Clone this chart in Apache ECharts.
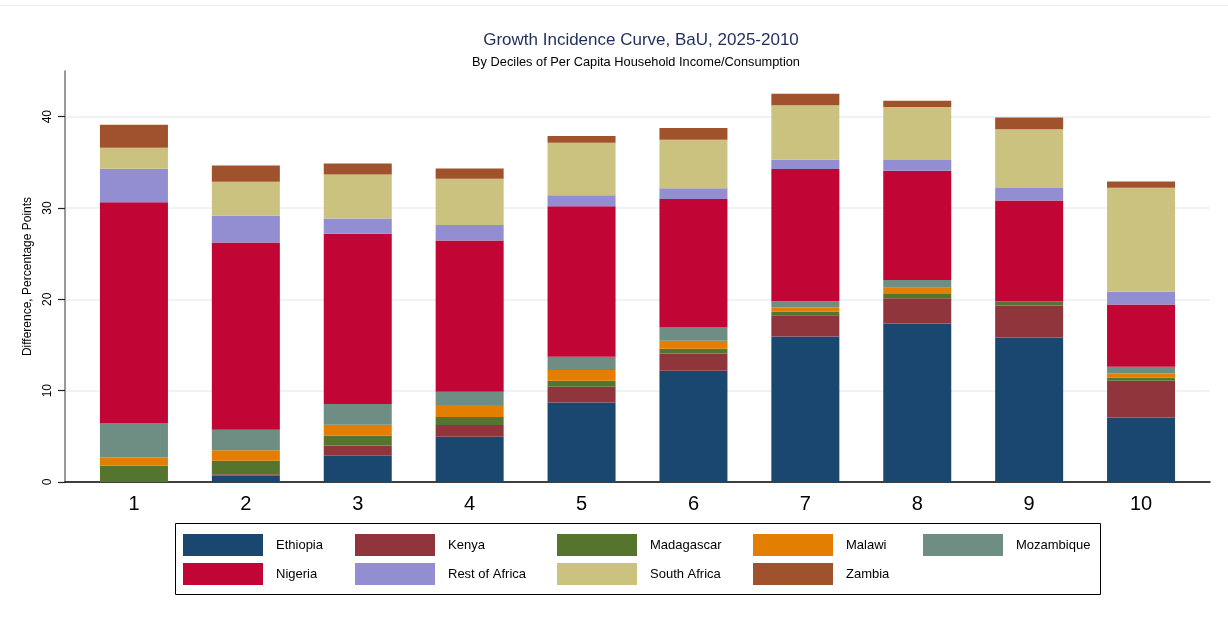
<!DOCTYPE html>
<html>
<head>
<meta charset="utf-8">
<script src="https://cdn.jsdelivr.net/npm/echarts@6/dist/echarts.min.js"></script>
<style>html,body{margin:0;padding:0;background:#fff;}#chart{width:1228px;height:617px;}</style>
</head>
<body>
<div id="chart"></div>
<script>
const deciles = ['1', '2', '3', '4', '5', '6', '7', '8', '9', '10'];
const yTicks = [0, 10, 20, 30, 40];
const ethiopia   = [0.00, 0.69, 2.88, 4.96, 8.71, 12.18, 15.93, 17.35, 15.82, 7.07];
const kenya      = [0.00, 0.15, 1.13, 1.28, 1.71, 1.90, 2.33, 2.77, 3.50, 4.01];
const madagascar = [1.79, 1.50, 1.09, 0.88, 0.66, 0.51, 0.40, 0.47, 0.44, 0.33];
const malawi     = [0.88, 1.13, 1.17, 1.31, 1.17, 0.87, 0.44, 0.69, 0.00, 0.47];
const mozambique = [3.79, 2.26, 2.26, 1.46, 1.46, 1.46, 0.69, 0.84, 0.00, 0.73];
const nigeria    = [24.18, 20.50, 18.64, 16.56, 16.48, 14.07, 14.47, 11.96, 11.05, 6.82];
const restAfrica = [3.65, 2.92, 1.68, 1.68, 1.20, 1.17, 1.02, 1.17, 1.39, 1.39];
const southAfrica= [2.30, 3.72, 4.81, 5.07, 5.76, 5.32, 5.98, 5.80, 6.42, 11.41];
const zambia     = [2.52, 1.79, 1.20, 1.13, 0.73, 1.28, 1.24, 0.69, 1.28, 0.66];

const seriesDefs = [
  ['Ethiopia', ethiopia, '#1a476f'],
  ['Kenya', kenya, '#90353b'],
  ['Madagascar', madagascar, '#55752f'],
  ['Malawi', malawi, '#e37e00'],
  ['Mozambique', mozambique, '#6e8e84'],
  ['Nigeria', nigeria, '#c10534'],
  ['Rest of Africa', restAfrica, '#938dd2'],
  ['South Africa', southAfrica, '#cac27e'],
  ['Zambia', zambia, '#a0522d']
];

const FONT = '"Liberation Sans", Arial, Helvetica, sans-serif';

const series = seriesDefs.map(([name, vals, color]) => ({
  name: name,
  type: 'bar',
  stack: 'total',
  barWidth: 68,
  xAxisIndex: 1,
  yAxisIndex: 1,
  itemStyle: { color: color },
  emphasis: { disabled: true },
  data: vals
}));

const legendCols = [
  ['Ethiopia', 'Nigeria'],
  ['Kenya', 'Rest of Africa'],
  ['Madagascar', 'South Africa'],
  ['Malawi', 'Zambia'],
  ['Mozambique']
];
const legendX = [183, 355, 557, 753, 923];
const legends = legendCols.map((names, i) => ({
  orient: 'vertical',
  left: legendX[i],
  top: 534,
  padding: 0,
  itemWidth: 80,
  itemHeight: 22,
  itemGap: 7,
  selectedMode: false,
  icon: 'rect',
  data: names,
  textStyle: { fontFamily: FONT, fontSize: 13, color: '#000', padding: [0, 0, 0, 8] }
}));

const chart = echarts.init(document.getElementById('chart'), null, { renderer: 'canvas' });
chart.setOption({
  animation: false,
  backgroundColor: '#fff',
  grid: [
    { left: 65, right: 18, top: 71, bottom: 617 - 482 },
    { left: 78, right: 31, top: 71, bottom: 617 - 482 }
  ],
  xAxis: [
    {
      gridIndex: 0,
      type: 'value',
      min: 0, max: 1,
      axisLine: { show: true, onZero: false, lineStyle: { color: '#000', width: 1.5 } },
      axisTick: { show: false },
      splitLine: { show: false },
      axisLabel: { show: false }
    },
    {
      gridIndex: 1,
      type: 'category',
      data: deciles,
      axisLine: { show: false },
      axisTick: { show: false },
      splitLine: { show: false },
      axisLabel: { fontFamily: FONT, fontSize: 20, color: '#000', margin: 12 }
    }
  ],
  yAxis: [
    {
      gridIndex: 0,
      type: 'value',
      min: 0,
      max: 45,
      interval: 10,
      name: 'Difference, Percentage Points',
      nameLocation: 'middle',
      nameGap: 28,
      nameTextStyle: { fontFamily: FONT, fontSize: 12, color: '#000' },
      axisLine: { show: true, onZero: false, lineStyle: { color: '#777', width: 1.5 } },
      axisTick: { show: true, inside: false, length: 7, lineStyle: { color: '#222', width: 1.2 } },
      axisLabel: {
        showMaxLabel: false,
        formatter: v => (yTicks.indexOf(v) >= 0 ? String(v) : ''),
        rotate: 90, fontFamily: FONT, fontSize: 12, color: '#000', margin: 11
      },
      splitLine: { show: true, showMinLine: false, showMaxLine: false, lineStyle: { color: '#e9eff2', width: 1.5 } }
    },
    {
      gridIndex: 1,
      type: 'value',
      min: 0,
      max: 45,
      show: false
    }
  ],
  legend: legends,
  graphic: [
    { type: 'line', shape: { x1: 0, y1: 5.5, x2: 1228, y2: 5.5 }, style: { stroke: '#eaeeef', lineWidth: 1 } },
    { type: 'rect', shape: { x: 175.5, y: 523.5, width: 925, height: 71 }, style: { fill: 'none', stroke: '#000', lineWidth: 1 } },
    { type: 'text', x: 641, y: 32, style: { text: 'Growth Incidence Curve, BaU, 2025-2010', fill: '#1e2d5c', font: '17px ' + FONT, textAlign: 'center' } },
    { type: 'text', x: 636, y: 56, style: { text: 'By Deciles of Per Capita Household Income/Consumption', fill: '#000', font: '12.8px ' + FONT, textAlign: 'center' } }
  ],
  series: series
});
</script>
</body>
</html>
